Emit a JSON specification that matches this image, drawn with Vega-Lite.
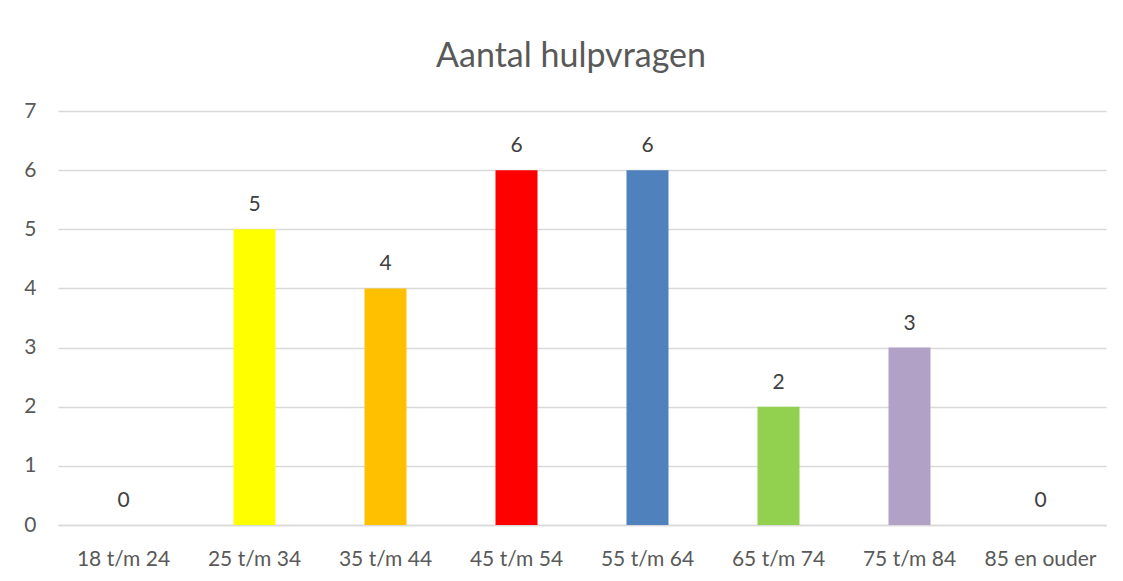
{
  "$schema": "https://vega.github.io/schema/vega-lite/v6.json",
  "autosize": {"type": "none"},
  "width": 1048,
  "height": 414,
  "padding": {"left": 58, "top": 111, "right": 17, "bottom": 56},
  "background": "white",
  "title": {
    "text": "Aantal hulpvragen",
    "font": "Lato",
    "fontSize": 34,
    "fontWeight": "normal",
    "color": "#595959",
    "anchor": "middle",
    "dx": -11,
    "offset": 26
  },
  "data": {
    "values": [
      {"groep": "18 t/m 24", "aantal": 0, "kleur": "#FFFFFF"},
      {"groep": "25 t/m 34", "aantal": 5, "kleur": "#FFFF00"},
      {"groep": "35 t/m 44", "aantal": 4, "kleur": "#FFC000"},
      {"groep": "45 t/m 54", "aantal": 6, "kleur": "#FF0000"},
      {"groep": "55 t/m 64", "aantal": 6, "kleur": "#4F81BD"},
      {"groep": "65 t/m 74", "aantal": 2, "kleur": "#92D050"},
      {"groep": "75 t/m 84", "aantal": 3, "kleur": "#B2A1C7"},
      {"groep": "85 en ouder", "aantal": 0, "kleur": "#FFFFFF"}
    ]
  },
  "encoding": {
    "x": {
      "field": "groep",
      "type": "nominal",
      "sort": null,
      "scale": {"paddingInner": 0, "paddingOuter": 0},
      "axis": {
        "title": null,
        "labelAngle": 0,
        "labelFont": "Lato",
        "labelFontSize": 21,
        "labelColor": "#595959",
        "labelPadding": 23,
        "ticks": false,
        "domainColor": "#D9D9D9",
        "domainWidth": 1.3
      }
    },
    "y": {
      "field": "aantal",
      "type": "quantitative",
      "scale": {"domain": [0, 7]},
      "axis": {
        "title": null,
        "tickCount": 7,
        "labelFont": "Lato",
        "labelFontSize": 21,
        "labelColor": "#595959",
        "labelPadding": 22,
        "ticks": false,
        "domain": false,
        "gridColor": "#D9D9D9",
        "gridWidth": 1.3
      }
    }
  },
  "layer": [
    {
      "mark": {"type": "bar", "width": 42},
      "encoding": {
        "color": {"field": "kleur", "type": "nominal", "scale": null, "legend": null}
      }
    },
    {
      "mark": {"type": "text", "baseline": "alphabetic", "dy": -18, "font": "Lato", "fontSize": 21, "color": "#404040"},
      "encoding": {
        "text": {"field": "aantal", "type": "quantitative"}
      }
    }
  ],
  "config": {"view": {"stroke": null}}
}
